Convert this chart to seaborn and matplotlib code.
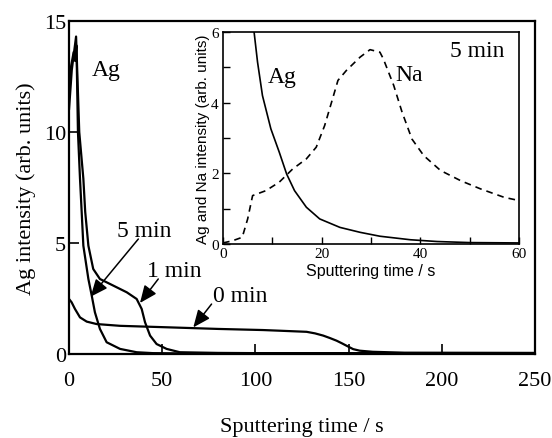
import numpy as np
import pandas as pd
import matplotlib
matplotlib.use("Agg")
import matplotlib.pyplot as plt
import seaborn as sns

# ---------------- data ----------------
t_0min = [0, 1.4, 3.2, 5.9, 9.5, 14.8, 27.4, 54, 80, 104, 113, 127.5, 132, 136.4, 140, 143.6, 146.5, 149, 152.5, 156, 163, 180, 250]
y_0min = [2.48, 2.33, 2.03, 1.65, 1.46, 1.35, 1.27, 1.2, 1.13, 1.08, 1.05, 1.0, 0.93, 0.83, 0.72, 0.6, 0.48, 0.37, 0.22, 0.15, 0.1, 0.06, 0.05]

t_1min = [0, 1.5, 3.8, 5.5, 7.7, 8.7, 10.4, 13, 16.6, 23.8, 31, 36.3, 39, 40.8, 43.5, 47, 52.4, 59.5, 80, 100, 150, 200, 250]
y_1min = [11.0, 12.8, 14.3, 10.0, 7.9, 6.4, 4.88, 3.83, 3.38, 3.08, 2.78, 2.48, 2.03, 1.43, 0.83, 0.45, 0.23, 0.08, 0.05, 0.04, 0.04, 0.04, 0.04]

t_5min = [0, 1.2, 2.5, 3.3, 4.0, 4.8, 5.9, 6.8, 7.7, 10.4, 12.2, 13.9, 16.6, 20.2, 27.4, 36.3, 45, 60, 100, 250]
y_5min = [12.0, 13.0, 13.6, 13.2, 13.9, 10.0, 7.9, 6.4, 4.88, 3.38, 2.63, 1.88, 1.13, 0.53, 0.23, 0.08, 0.04, 0.03, 0.03, 0.03]

# inset (5 min)
t_ag_in = [6.3, 7.0, 8.0, 9.7, 11.4, 12.9, 14.5, 16.9, 19.6, 23.7, 27.8, 31.8, 38, 43.4, 50, 60]
y_ag_in = [6.0, 5.15, 4.2, 3.26, 2.6, 1.98, 1.51, 1.04, 0.71, 0.47, 0.33, 0.22, 0.12, 0.07, 0.04, 0.03]

t_na_in = [0, 1.9, 3.9, 5.0, 6.0, 8.7, 11.4, 14.1, 16.9, 18.9, 20.6, 22.0, 23.3, 25.0, 27.8, 29.8, 31.8, 32.5, 34.6, 36.3, 38.3, 40.7, 44.1, 48.2, 52.2, 57, 60]
y_na_in = [0.03, 0.09, 0.19, 0.71, 1.37, 1.51, 1.75, 2.12, 2.41, 2.74, 3.35, 4.01, 4.63, 4.91, 5.29, 5.5, 5.43, 5.24, 4.49, 3.73, 2.97, 2.5, 2.08, 1.79, 1.56, 1.32, 1.23]

main_xticks = [0, 50, 100, 150, 200, 250]
main_yticks = [0, 5, 10, 15]
inset_xticks = [0, 20, 40, 60]
inset_yticks = [0, 2, 4, 6]

# ---------------- style ----------------
sns.set_theme(style="ticks")
plt.rcParams["font.family"] = ["Liberation Serif", "DejaVu Serif"]
plt.rcParams["text.color"] = "black"
plt.rcParams["axes.labelcolor"] = "black"
plt.rcParams["xtick.color"] = "black"
plt.rcParams["ytick.color"] = "black"

fig = plt.figure(figsize=(5.52, 4.39), dpi=100)
fig.patch.set_facecolor("white")

ax = fig.add_axes([0.125, 0.1913, 0.844, 0.7586])
ax.set_facecolor("white")

for tt, yy in [(t_0min, y_0min), (t_1min, y_1min), (t_5min, y_5min)]:
    sns.lineplot(x=tt, y=yy, ax=ax, color="black", lw=1.6, estimator=None, sort=False)

ax.set_xlim(0, 250)
ax.set_ylim(0, 15)
ax.set_xticks(main_xticks)
ax.set_yticks(main_yticks)
ax.tick_params(axis="both", direction="in", length=7, width=1.2, labelsize=16,
               colors="black")
ax.tick_params(axis="x", pad=12)
ax.tick_params(axis="y", pad=2)
for s in ax.spines.values():
    s.set_linewidth(1.6)
    s.set_color("black")
ax.set_xlabel("Sputtering time / s", fontsize=16, labelpad=20, color="black")
ax.set_ylabel("Ag intensity (arb. units)", fontsize=16, labelpad=6, color="black")

ax.text(12.3, 12.57, "Ag", fontsize=17, ha="left", va="baseline", color="black")
ax.text(25.8, 5.3, "5 min", fontsize=17, ha="left", va="baseline", color="black")
ax.text(41.8, 3.5, "1 min", fontsize=17, ha="left", va="baseline", color="black")
ax.text(77.3, 2.4, "0 min", fontsize=17, ha="left", va="baseline", color="black")

aprops = dict(arrowstyle="-|>,head_length=0.7,head_width=0.3", color="black",
              lw=1.1, shrinkA=0, shrinkB=0, mutation_scale=15)
ax.annotate("", xy=(11.6, 2.58), xytext=(37.2, 5.18), arrowprops=aprops)
ax.annotate("", xy=(38.1, 2.3), xytext=(47.9, 3.38), arrowprops=aprops)
ax.annotate("", xy=(66.7, 1.2), xytext=(76.5, 2.25), arrowprops=aprops)

# ---------------- inset ----------------
ins = fig.add_axes([223 / 552, 1 - 245 / 439, (519 - 223) / 552, (245 - 33) / 439])
ins.set_facecolor("white")
sns.lineplot(x=t_ag_in, y=y_ag_in, ax=ins, color="black", lw=1.2, estimator=None, sort=False)
sns.lineplot(x=t_na_in, y=y_na_in, ax=ins, color="black", lw=1.2, estimator=None, sort=False)
ins.lines[-1].set_dashes((4, 3))
ins.set_xlim(0, 60)
ins.set_ylim(0, 6)
ins.set_xticks(inset_xticks)
ins.set_yticks(inset_yticks)
ins.set_xticks([10, 30, 50], minor=True)
ins.set_yticks([1, 3, 5], minor=True)
ins.tick_params(axis="both", which="both", direction="in", length=5, width=1.0,
                labelsize=11, colors="black")
ins.tick_params(axis="x", pad=2)
ins.tick_params(axis="y", pad=3)
for s in ins.spines.values():
    s.set_linewidth(1.2)
    s.set_color("black")
ins.set_xlabel("Sputtering time / s", fontsize=11.5, labelpad=2,
               family=["Liberation Sans", "DejaVu Sans"], color="black")
ins.set_ylabel("Ag and Na intensity (arb. units)", fontsize=11, labelpad=1,
               family=["Liberation Sans", "DejaVu Sans"], color="black")
ins.text(9.0, 4.59, "Ag", fontsize=17, ha="left", va="baseline", color="black")
ins.text(34.9, 4.65, "Na", fontsize=17, ha="left", va="baseline", color="black")
ins.text(46.1, 5.33, "5 min", fontsize=17, ha="left", va="baseline", color="black")

fig.savefig("out.png", dpi=100, facecolor="white")
